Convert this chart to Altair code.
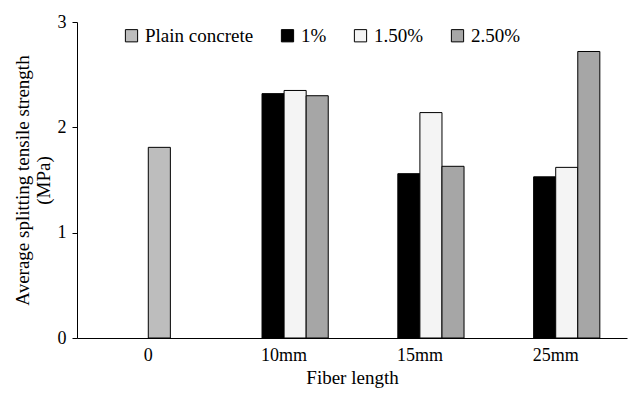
import pandas as pd
import altair as alt

groups = ["0", "10mm", "15mm", "25mm"]
series = ["Plain concrete", "1%", "1.50%", "2.50%"]
fills = ["#bdbdbd", "#000000", "#f4f4f4", "#a6a6a6"]

rows_group = ["0", "10mm", "10mm", "10mm", "15mm", "15mm", "15mm", "25mm", "25mm", "25mm"]
rows_series = ["Plain concrete", "1%", "1.50%", "2.50%", "1%", "1.50%", "2.50%", "1%", "1.50%", "2.50%"]
rows_value = [1.81, 2.32, 2.35, 2.30, 1.56, 2.14, 1.63, 1.53, 1.62, 2.72]
# slot within the group, as in the original layout
slot_of = {"Plain concrete": "s2", "1%": "s1", "1.50%": "s2", "2.50%": "s3"}

df = pd.DataFrame({"group": rows_group, "series": rows_series, "value": rows_value})
df["slot"] = df["series"].map(slot_of)

font = "Liberation Serif"

chart = (
    alt.Chart(df)
    .mark_bar(stroke="black", strokeWidth=1)
    .encode(
        x=alt.X("group:N", sort=groups, title="Fiber length",
                scale=alt.Scale(paddingInner=0.35, paddingOuter=0.2),
                axis=alt.Axis(labelAngle=0, ticks=False, domainColor="black", labelPadding=8)),
        xOffset=alt.XOffset("slot:N", scale=alt.Scale(domain=["s0", "s1", "s2", "s3"], paddingInner=0)),
        y=alt.Y("value:Q", title=["Average splitting tensile strength", "(MPa)"],
                scale=alt.Scale(domain=[0, 3]),
                axis=alt.Axis(values=[0, 1, 2, 3], grid=False, domainColor="black", tickColor="black",
                              labelPadding=6)),
        color=alt.Color("series:N", scale=alt.Scale(domain=series, range=fills),
                        legend=alt.Legend(title=None, orient="none", legendX=45, legendY=4,
                                          direction="horizontal",
                                          symbolType="square", symbolStrokeColor="black",
                                          symbolStrokeWidth=1, symbolSize=150, labelFontSize=19,
                                          labelFont=font, labelColor="black", columnPadding=24,
                                          padding=0)),
    )
    .properties(width=624, height=384, autosize=alt.AutoSizeParams(type="fit", contains="padding"))
    .configure_view(stroke=None)
    .configure_axis(labelFont=font, titleFont=font, labelFontSize=18, titleFontSize=19,
                    labelColor="black", titleColor="black", titleFontWeight="normal")
)

chart.save("out.html", embed_options={"renderer": "svg", "actions": False})
